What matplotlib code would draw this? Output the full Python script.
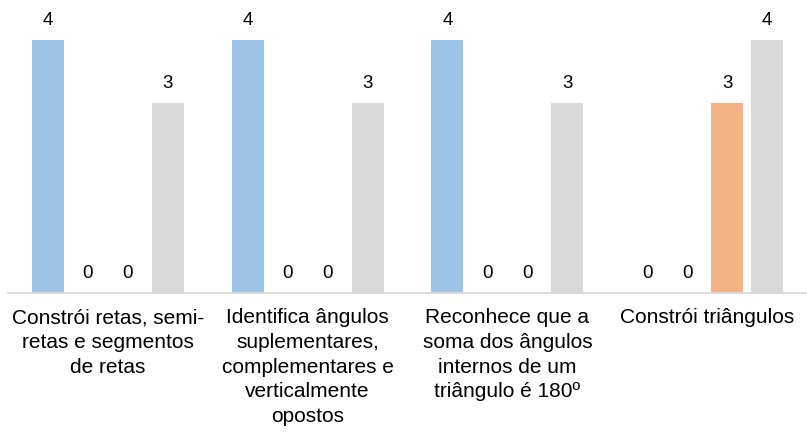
import matplotlib
matplotlib.use("Agg")
import matplotlib.pyplot as plt
import numpy as np

plt.rcParams['font.family'] = ['Liberation Sans', 'DejaVu Sans']

categories = [
    "Constrói retas, semi-\nretas e segmentos\nde retas",
    "Identifica ângulos\nsuplementares,\ncomplementares e\nverticalmente\nopostos",
    "Reconhece que a\nsoma dos ângulos\ninternos de um\ntriângulo é 180º",
    "Constrói triângulos",
]
series_names = ["Série 1", "Série 2", "Série 3", "Série 4"]
series_values = [
    [4, 4, 4, 0],
    [0, 0, 0, 0],
    [0, 0, 0, 3],
    [3, 3, 3, 4],
]
colors = ["#9DC3E6", "#FFD966", "#F4B183", "#D9D9D9"]

W, H = 807, 433
fig = plt.figure(figsize=(W / 100, H / 100), dpi=100)
left, right = 8, 807
base, top = 293, 0
ax = fig.add_axes([left / W, (H - base) / H, (right - left) / W, (base - top) / H])

x = np.arange(len(categories))
step = 0.2
width = 0.16
offsets = (np.arange(len(series_values)) - 1.5) * step
for vals, off, c, name in zip(series_values, offsets, colors, series_names):
    bars = ax.bar(x + off, vals, width=width, color=c, label=name, zorder=2)
    for b, v in zip(bars, vals):
        ax.annotate(str(v), (b.get_x() + b.get_width() / 2, v),
                    xytext=(0, 8), textcoords="offset points",
                    ha="center", va="bottom", fontsize=13.5, color="#000000")

ax.set_xlim(-0.5, len(categories) - 0.5)
ax.set_ylim(0, 293 / 63.25)
ax.set_xticks(x)
ax.set_xticklabels(categories, fontsize=15, linespacing=1.38, color="#000000")
ax.tick_params(axis="x", length=0, pad=11)
ax.set_yticks([])
for s in ["top", "right", "left"]:
    ax.spines[s].set_visible(False)
ax.spines["bottom"].set_color("#D9D9D9")
ax.spines["bottom"].set_linewidth(1.3)

fig.savefig("out.png", dpi=100)
